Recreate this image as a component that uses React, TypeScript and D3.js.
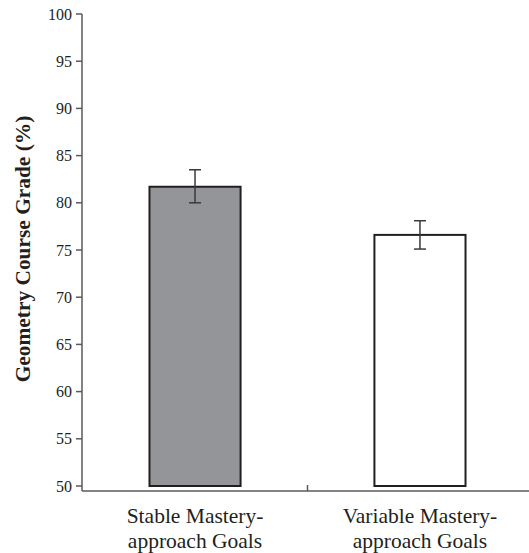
import React, { useRef, useEffect } from 'react';
import * as d3 from 'd3';

const categories = ['Stable Mastery-\napproach Goals', 'Variable Mastery-\napproach Goals'];
const means = [81.7, 76.6];
const errLow = [80.0, 75.1];
const errHigh = [83.5, 78.1];
const yTicks = [50, 55, 60, 65, 70, 75, 80, 85, 90, 95, 100];
const fills = ['#939598', '#ffffff'];

const serif = "'Liberation Serif', 'Times New Roman', serif";

const App = () => {
  const ref = useRef<SVGSVGElement>(null);

  const width = 529, height = 553;
  const left = 82, right = 529, top = 14, bottom = 486, axisY = 491;

  useEffect(() => {
    const svg = d3.select(ref.current);
    svg.selectAll('*').remove();

    const x = d3.scaleBand<string>()
      .domain(categories)
      .range([left, right + 4])
      .paddingInner(0.595)
      .paddingOuter(0.3);
    const y = d3.scaleLinear().domain([50, 100]).range([bottom, top]);

    const ink = '#231f20';
    const axisCol = '#5a5a5a';

    // y axis
    svg.append('line')
      .attr('x1', left).attr('x2', left)
      .attr('y1', y(100)).attr('y2', axisY)
      .attr('stroke', axisCol).attr('stroke-width', 1.5);
    const yt = svg.append('g');
    yt.selectAll('line').data(yTicks).enter().append('line')
      .attr('x1', left - 6).attr('x2', left)
      .attr('y1', d => y(d)).attr('y2', d => y(d))
      .attr('stroke', axisCol).attr('stroke-width', 1.5);
    yt.selectAll('text').data(yTicks).enter().append('text')
      .attr('x', left - 10).attr('y', d => y(d))
      .attr('dy', '0.35em')
      .attr('text-anchor', 'end')
      .style('font-family', serif)
      .attr('font-size', 16)
      .attr('fill', ink)
      .text(d => d);

    // x axis
    svg.append('line')
      .attr('x1', left).attr('x2', right)
      .attr('y1', axisY).attr('y2', axisY)
      .attr('stroke', axisCol).attr('stroke-width', 1.5);
    const mid = ((x(categories[0])! + x.bandwidth()) + x(categories[1])!) / 2;
    svg.append('line')
      .attr('x1', mid).attr('x2', mid)
      .attr('y1', axisY - 6).attr('y2', axisY)
      .attr('stroke', axisCol).attr('stroke-width', 1.5);

    // bars
    svg.selectAll('.bar').data(categories).enter().append('rect')
      .attr('class', 'bar')
      .attr('x', d => x(d)!)
      .attr('width', x.bandwidth())
      .attr('y', (d, i) => y(means[i]))
      .attr('height', (d, i) => bottom - y(means[i]))
      .attr('fill', (d, i) => fills[i])
      .attr('stroke', ink)
      .attr('stroke-width', 2);

    // error bars
    const cap = 6;
    const eb = svg.append('g').attr('stroke', '#3a3a3a').attr('stroke-width', 1.5);
    categories.forEach((c, i) => {
      const cx = x(c)! + x.bandwidth() / 2;
      eb.append('line').attr('x1', cx).attr('x2', cx).attr('y1', y(errLow[i])).attr('y2', y(errHigh[i]));
      eb.append('line').attr('x1', cx - cap).attr('x2', cx + cap).attr('y1', y(errLow[i])).attr('y2', y(errLow[i]));
      eb.append('line').attr('x1', cx - cap).attr('x2', cx + cap).attr('y1', y(errHigh[i])).attr('y2', y(errHigh[i]));
    });

    // x labels
    categories.forEach(c => {
      const cx = x(c)! + x.bandwidth() / 2;
      const t = svg.append('text')
        .attr('text-anchor', 'middle')
        .style('font-family', serif)
        .attr('font-size', 21.5)
        .attr('fill', ink);
      c.split('\n').forEach((line, k) => {
        t.append('tspan').attr('x', cx).attr('y', 523 + k * 25).text(line);
      });
    });

    // y title
    svg.append('text')
      .attr('transform', 'translate(30,249) rotate(-90)')
      .attr('text-anchor', 'middle')
      .style('font-family', serif)
      .attr('font-weight', 'bold')
      .attr('font-size', 21.4)
      .attr('fill', ink)
      .text('Geometry Course Grade (%)');
  }, []);

  return (
    <svg ref={ref} width={width} height={height}
      style={{ position: 'absolute', left: 0, top: 0, background: '#fff' }} />
  );
};

export default App;
